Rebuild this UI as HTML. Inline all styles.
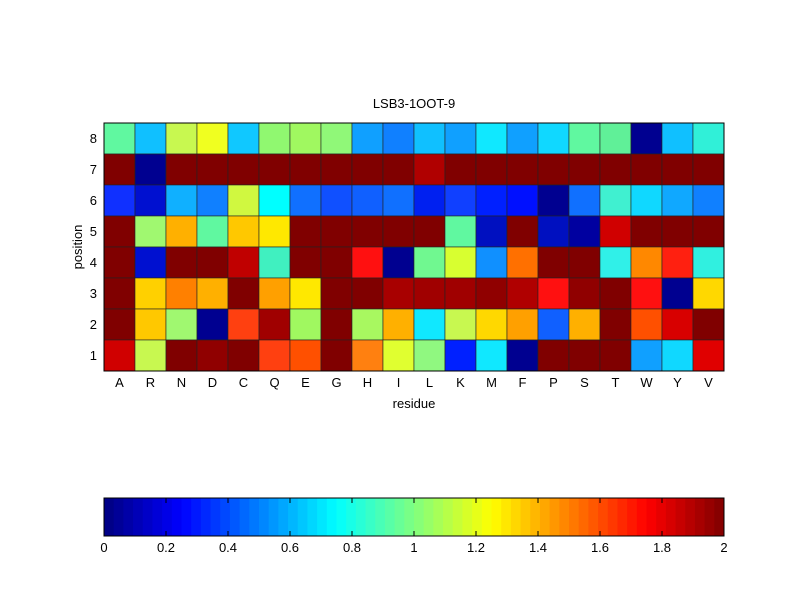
<!DOCTYPE html>
<html><head><meta charset="utf-8"><style>
html,body{margin:0;padding:0;background:#fff;}
svg{display:block;font-family:"Liberation Sans",sans-serif;}
</style></head><body>
<svg id="s" width="800" height="600" xmlns="http://www.w3.org/2000/svg">
<rect width="800" height="600" fill="#fff"/>
<g id="cells"></g>
<rect x="104" y="123" width="620" height="248" fill="none" stroke="#000" stroke-width="1"/>
<text x="414" y="108" font-size="13" text-anchor="middle">LSB3-1OOT-9</text>
<text x="414" y="408" font-size="13" text-anchor="middle">residue</text>
<text transform="translate(82,247) rotate(-90)" font-size="13" text-anchor="middle">position</text>
<g id="ticks" font-size="13"></g>
<g id="cb"></g>
<rect x="104" y="498" width="620" height="38" fill="none" stroke="#000" stroke-width="1"/>
</svg>
<script>
var rows=[
["#60f8a0","#10c0ff","#c8f850","#f0ff20","#10c8ff","#90f870","#a0f860","#90f878","#10a0ff","#1080ff","#10c0ff","#10a0ff","#10e8ff","#10a0ff","#10d8ff","#60f8a0","#60f098","#000090","#10c0ff","#30f0d8"],
["#800000","#000090","#800000","#800000","#800000","#800000","#800000","#800000","#800000","#800000","#b00000","#800000","#800000","#800000","#800000","#800000","#800000","#800000","#800000","#800000"],
["#1030ff","#0010d0","#10b0ff","#1080ff","#d0f840","#00ffff","#1070ff","#1050ff","#1060ff","#1070ff","#0020f0","#1040ff","#0020ff","#0010ff","#000090","#1070ff","#40f0d0","#10d8ff","#10a8ff","#1080ff"],
["#800000","#a0f870","#ffb000","#60f8a0","#ffc800","#ffe800","#800000","#800000","#800000","#800000","#800000","#60f8a0","#0010c0","#800000","#0010c0","#0000a0","#d00000","#800000","#800000","#800000"],
["#800000","#0010d0","#800000","#800000","#c00000","#40f0c0","#800000","#800000","#ff1010","#000090","#70f890","#d8ff30","#1090ff","#ff7000","#800000","#800000","#30f0e8","#ff8800","#ff2010","#30f0e0"],
["#800000","#ffd000","#ff8000","#ffb000","#800000","#ffa000","#ffe800","#800000","#800000","#a80000","#a00000","#a00000","#900000","#b00000","#ff1010","#900000","#800000","#ff1010","#000090","#ffd800"],
["#800000","#ffc800","#a0f870","#000090","#ff4010","#a00000","#a0f860","#800000","#a8f860","#ffb000","#10e8ff","#c8f850","#ffd800","#ffa000","#1060ff","#ffb000","#800000","#ff5000","#d80000","#800000"],
["#d00000","#c8f850","#800000","#900000","#800000","#ff4010","#ff5000","#800000","#ff8010","#e0ff30","#90f880","#0020ff","#10e8ff","#000090","#800000","#800000","#800000","#10a0ff","#10d8ff","#e00000"]];
var NS="http://www.w3.org/2000/svg";
function el(t,a,p,txt){var e=document.createElementNS(NS,t);for(var k in a)e.setAttribute(k,a[k]);if(txt!=null)e.textContent=txt;p.appendChild(e);return e;}
var g=document.getElementById("cells");
for(var r=0;r<8;r++)for(var c=0;c<20;c++)
 el("rect",{x:104+c*31,y:123+r*31,width:31,height:31,fill:rows[r][c],stroke:"#222","stroke-width":0.6},g);
var t=document.getElementById("ticks");
var res="ARNDCQEGHILKMFPSTWYV";
for(var c=0;c<20;c++)el("text",{x:104+c*31+15.5,y:387,"text-anchor":"middle"},t,res[c]);
for(var r=0;r<8;r++)el("text",{x:97,y:123+r*31+20,"text-anchor":"end"},t,String(8-r));
function jet(v){function f(x){return Math.max(0,Math.min(1,x));}
 var R=f(1.5-Math.abs(4*v-3)),G=f(1.5-Math.abs(4*v-2)),B=f(1.5-Math.abs(4*v-1));
 return "rgb("+Math.round(R*255)+","+Math.round(G*255)+","+Math.round(B*255)+")";}
var cb=document.getElementById("cb");
for(var i=0;i<64;i++){var v=(i+0.5)/64;el("rect",{x:104+i*620/64,y:498,width:620/64+0.5,height:38,fill:jet(v)},cb);}
for(var i=1;i<10;i++){var x=104+i*62;el("line",{x1:x,y1:498,x2:x,y2:503,stroke:"#000"},cb);el("line",{x1:x,y1:536,x2:x,y2:531,stroke:"#000"},cb);}
var labs=["0","0.2","0.4","0.6","0.8","1","1.2","1.4","1.6","1.8","2"];
for(var i=0;i<11;i++)el("text",{x:104+i*62,y:552,"text-anchor":"middle","font-size":13},cb,labs[i]);
</script>
</body></html>
